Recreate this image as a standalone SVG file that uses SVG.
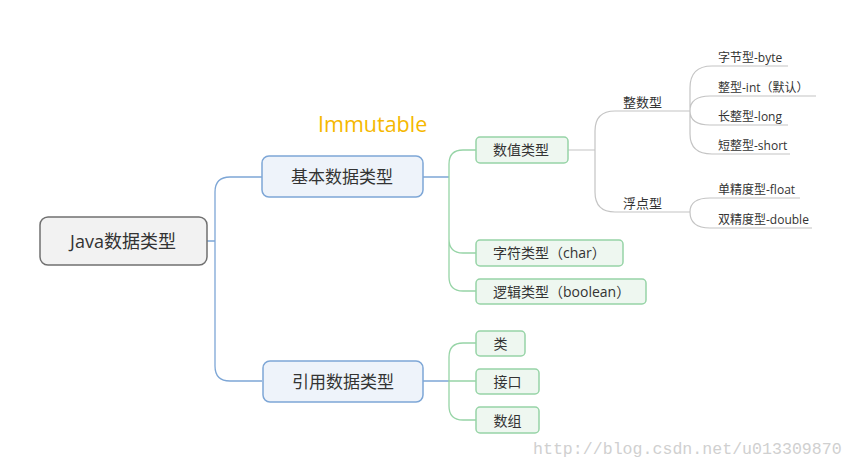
<svg xmlns="http://www.w3.org/2000/svg" width="854" height="458" viewBox="0 0 854 458">
<style>
text{font-family:"Open Sans","Noto Sans CJK SC",sans-serif;fill:#333}
.c{text-anchor:middle;dominant-baseline:central}
.blue{fill:none;stroke:#7da6d6;stroke-width:1.3}
.green{fill:none;stroke:#96d4a6;stroke-width:1.3}
.gray{fill:none;stroke:#c4c4c4;stroke-width:1.2}
.n1{fill:#eef3fa;stroke:#7da6d6;stroke-width:1.5}
.n2{fill:#eef7f0;stroke:#96d4a6;stroke-width:1.5}
.s{font-size:12px}
</style>
<rect width="854" height="458" fill="#fff"/>
<g id="connectors">
<path class="blue" d="M207,241 H215 M262,177 H230 Q215,177 215,192 V366 Q215,381 230,381 H262 M423,177 H449 M423,381 H449"/>
<path class="green" d="M476,150 H463 Q449,150 449,164 V277 Q449,291 463,291 H476 M449,239 Q449,253 463,253 H476"/>
<path class="green" d="M476,343 H463 Q449,343 449,357 V406 Q449,420 463,420 H476 M449,381 H476"/>
<path class="gray" d="M568,150 H595 M690,111 H615 Q595,111 595,131 V192 Q595,212 615,212 H690"/>
<path class="gray" d="M690,111 V88 Q690,66 712,66 H788 M690,111 Q690,96 710,96 H816 M690,111 Q690,125 710,125 H788 M690,111 V134 Q690,154 712,154 H790"/>
<path class="gray" d="M690,212 Q690,198 710,198 H800 M690,212 Q690,228 710,228 H812"/>
</g>
<g id="root"><rect x="40" y="217" width="167" height="48" rx="8" fill="#f2f2f2" stroke="#707070" stroke-width="1.5"/><text class="c" x="123" y="241" font-size="18">Java数据类型</text></g>
<g id="basic"><rect x="262" y="156" width="161" height="41" rx="7" class="n1"/><text class="c" x="342" y="176.5" font-size="17">基本数据类型</text></g>
<g id="ref"><rect x="263" y="361" width="160" height="41" rx="7" class="n1"/><text class="c" x="343" y="381.5" font-size="17">引用数据类型</text></g>
<g id="numeric"><rect x="476" y="137" width="92" height="26" rx="4" class="n2"/><text x="493" y="155" font-size="14">数值类型</text></g>
<g id="char"><rect x="476" y="240" width="147" height="26" rx="4" class="n2"/><text x="493" y="258" font-size="14">字符类型（char）</text></g>
<g id="bool"><rect x="476" y="279" width="170" height="25" rx="4" class="n2"/><text x="493" y="297" font-size="14">逻辑类型（boolean）</text></g>
<g id="class"><rect x="476" y="331" width="49" height="25" rx="4" class="n2"/><text class="c" x="500.5" y="343.5" font-size="14">类</text></g>
<g id="iface"><rect x="476" y="369" width="63" height="25" rx="4" class="n2"/><text class="c" x="507.5" y="381.5" font-size="14">接口</text></g>
<g id="array"><rect x="476" y="407" width="63" height="26" rx="4" class="n2"/><text class="c" x="507.5" y="420" font-size="14">数组</text></g>
<g id="int"><text x="623" y="107" font-size="13">整数型</text></g>
<g id="float"><text x="623" y="208" font-size="13">浮点型</text></g>
<g id="byte"><text class="s" x="718" y="62">字节型-byte</text></g>
<g id="intd"><text class="s" x="718" y="92">整型-int（默认）</text></g>
<g id="long"><text class="s" x="718" y="121">长整型-long</text></g>
<g id="short"><text class="s" x="718" y="150">短整型-short</text></g>
<g id="single"><text class="s" x="718" y="194">单精度型-float</text></g>
<g id="double"><text class="s" x="718" y="224">双精度型-double</text></g>
<text x="318" y="132" font-size="21.5" style="fill:#f5b800">Immutable</text>
<text x="533" y="454" font-size="16.6" style="font-family:'Liberation Mono',monospace;fill:#d0d0d0">http://blog.csdn.net/u013309870</text>
</svg>
